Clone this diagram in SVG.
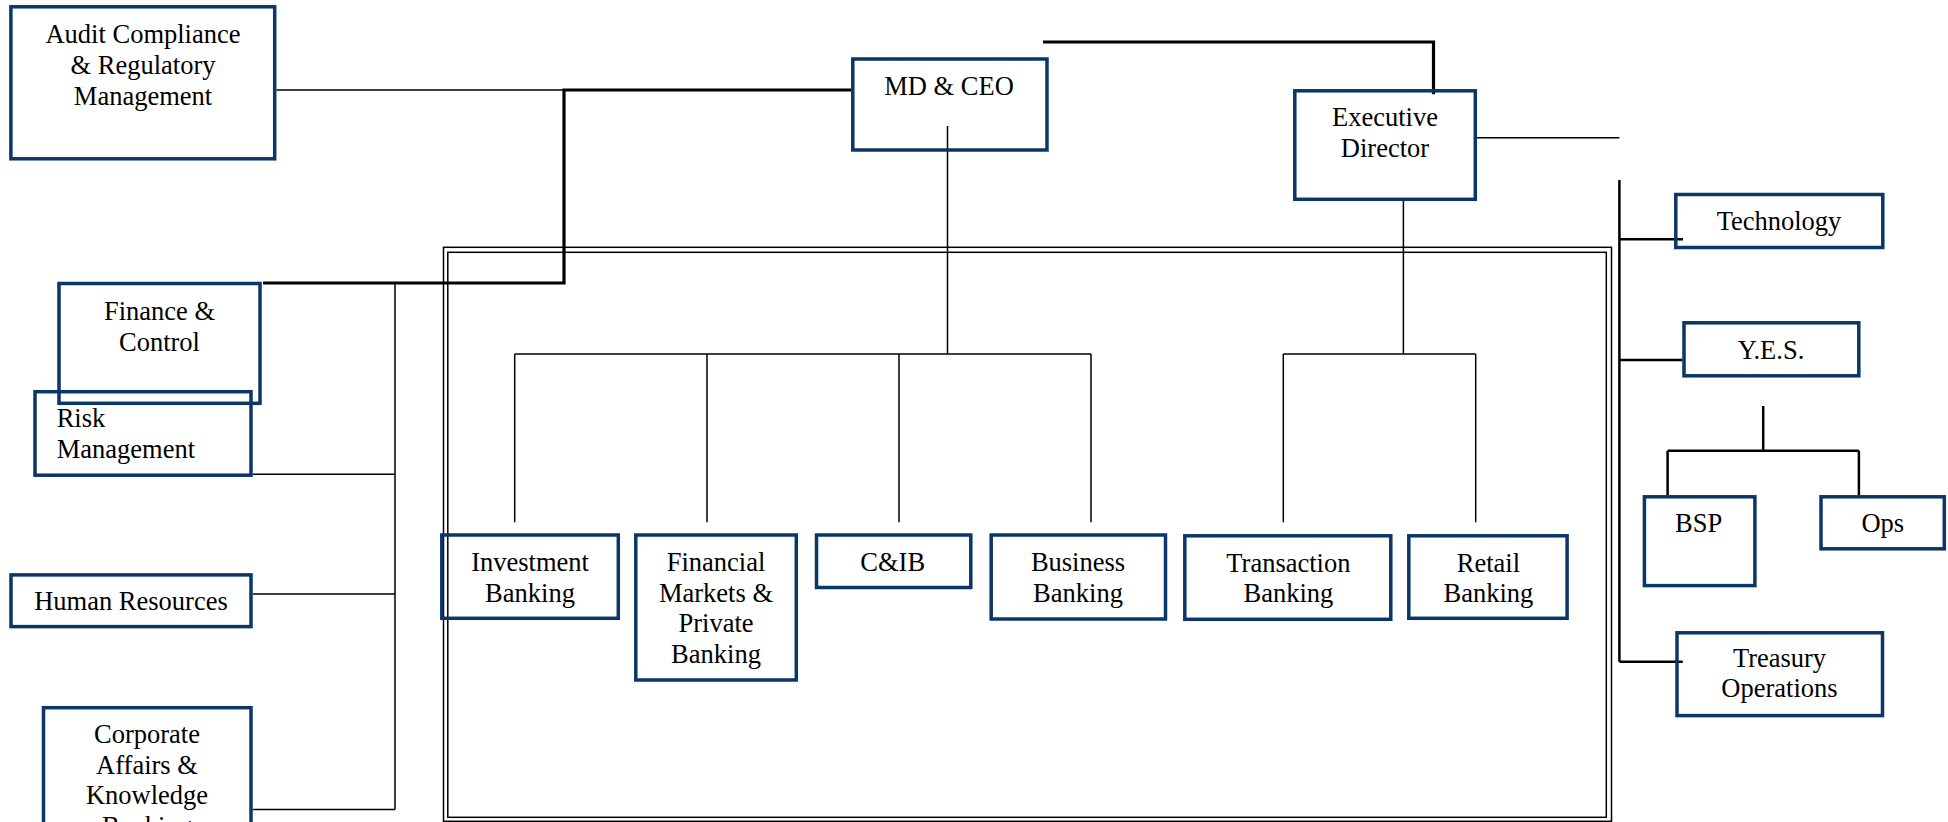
<svg xmlns="http://www.w3.org/2000/svg" width="1948" height="822" viewBox="0 0 1948 822">
<style>
.box{fill:none;stroke:#0b3668;stroke-width:3.5}
.t{font-family:"Liberation Serif","Times New Roman",serif;font-size:26.5px;fill:#000;text-anchor:middle}
.thin{fill:none;stroke:#000;stroke-width:1.5}
.thick{fill:none;stroke:#000;stroke-width:3.2}
.med{fill:none;stroke:#000;stroke-width:2.5}
</style>
<rect width="1948" height="822" fill="#fff"/>
<g id="connectors">
<rect x="443.5" y="247.3" width="1168" height="574" class="thin" stroke-width="1.8"/>
<rect x="447.8" y="252.3" width="1158.5" height="565" class="thin" stroke-width="1.8"/>
<path class="thin" d="M276.5,90H564M252.7,474.3H395M252.7,593.9H395M252.7,809.6H395M395,283V809.6"/>
<path class="thin" d="M947.5,126V354M514.7,354H1091M514.7,354V522.3M707,354V522.3M899,354V522.3M1091,354V522.3"/>
<path class="thin" d="M1403.4,201V354M1283.3,354H1475.7M1283.3,354V522.3M1475.7,354V522.3M1477,137.7H1619.4"/>
<path class="thick" d="M263,283H564V90H851"/>
<path class="thick" d="M1043,42H1433.5V94.3"/>
<path class="med" d="M1619.4,180V661.7M1619.4,239.3H1683M1619.4,360H1682.3M1619.4,661.7H1682.8"/>
<path class="med" stroke-width="2" d="M1763.2,406V450.7M1667.6,450.7H1858.9M1667.6,450.7V495M1858.9,450.7V495"/>
</g>
<g id="audit"><rect class="box" x="10.9" y="6.8" width="263.8" height="152"/><text class="t" x="143" y="42.7">Audit Compliance<tspan x="143" y="73.7">&amp; Regulatory</tspan><tspan x="143" y="104.7">Management</tspan></text></g>
<g id="mdceo"><rect class="box" x="852.8" y="59" width="194.2" height="91"/><text class="t" x="949" y="95">MD &amp; CEO</text></g>
<g id="exec"><rect class="box" x="1294.8" y="90.8" width="180.5" height="108.5"/><text class="t" x="1385" y="126">Executive<tspan x="1385" y="157">Director</tspan></text></g>
<g id="technology"><rect class="box" x="1675.8" y="194.5" width="207" height="53"/><text class="t" x="1779" y="230">Technology</text></g>
<g id="yes"><rect class="box" x="1684" y="322.8" width="174.8" height="53"/><text class="t" x="1771" y="359">Y.E.S.</text></g>
<g id="finance"><rect class="box" x="59" y="283.5" width="201" height="119.8"/><text class="t" x="159.5" y="319.8">Finance &amp;<tspan x="159.5" y="350.9">Control</tspan></text></g>
<g id="risk"><rect class="box" x="35" y="391.7" width="216" height="83.5"/><text class="t" x="56.7" y="426.9" style="text-anchor:start">Risk<tspan x="56.7" y="458">Management</tspan></text></g>
<g id="hr"><rect class="box" x="11" y="574.9" width="240" height="51.7"/><text class="t" x="131" y="610.1">Human Resources</text></g>
<g id="corporate"><rect class="box" x="43.5" y="707.7" width="207.5" height="150"/><text class="t" x="147" y="742.5">Corporate<tspan x="147" y="773.6">Affairs &amp;</tspan><tspan x="147" y="803.7">Knowledge</tspan><tspan x="147" y="834.5">Banking</tspan></text></g>
<g id="investment"><rect class="box" x="441.8" y="535" width="176.5" height="83.3"/><text class="t" x="530" y="570.7">Investment<tspan x="530" y="601.7">Banking</tspan></text></g>
<g id="fm"><rect class="box" x="635.8" y="535" width="160.5" height="145"/><text class="t" x="716" y="570.7">Financial<tspan x="716" y="601.5">Markets &amp;</tspan><tspan x="716" y="632">Private</tspan><tspan x="716" y="662.7">Banking</tspan></text></g>
<g id="cib"><rect class="box" x="816.5" y="535" width="154.3" height="52.5"/><text class="t" x="892.7" y="570.7">C&amp;IB</text></g>
<g id="business"><rect class="box" x="991.2" y="535" width="174.3" height="84"/><text class="t" x="1078" y="570.7">Business<tspan x="1078" y="601.7">Banking</tspan></text></g>
<g id="transaction"><rect class="box" x="1184.8" y="535.8" width="206" height="83.5"/><text class="t" x="1288.4" y="571.7">Transaction<tspan x="1288.4" y="601.7">Banking</tspan></text></g>
<g id="retail"><rect class="box" x="1408.8" y="535.8" width="158.3" height="82.5"/><text class="t" x="1488.4" y="571.7">Retail<tspan x="1488.4" y="601.7">Banking</tspan></text></g>
<g id="bsp"><rect class="box" x="1644.4" y="496.8" width="110.5" height="88.8"/><text class="t" x="1698.6" y="531.7">BSP</text></g>
<g id="ops"><rect class="box" x="1821" y="496.8" width="123.3" height="52"/><text class="t" x="1882.8" y="531.7">Ops</text></g>
<g id="treasury"><rect class="box" x="1677" y="632.8" width="205.5" height="82.8"/><text class="t" x="1779.5" y="667.3">Treasury<tspan x="1779.5" y="696.7">Operations</tspan></text></g>
</svg>
